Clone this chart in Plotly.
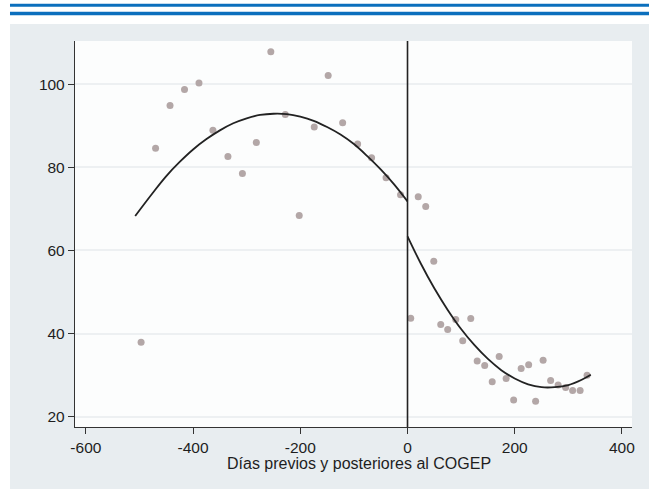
import plotly.graph_objects as go

# ---- data ----
days_before = [-497, -470, -443, -416, -389, -363, -335, -308, -282, -255,
               -228, -202, -174, -148, -121, -93, -67, -40, -13]
value_before = [37.9, 84.6, 94.9, 98.7, 100.3, 88.9, 82.6, 78.5, 86.0, 107.8,
                92.7, 68.4, 89.7, 102.1, 90.7, 85.6, 82.3, 77.5, 73.4]

days_after = [6, 20, 34, 49, 62, 75, 90, 103, 118, 130, 144, 158, 171, 184,
              198, 212, 226, 239, 253, 267, 281, 295, 308, 322, 335]
value_after = [43.7, 72.9, 70.6, 57.4, 42.2, 41.0, 43.4, 38.3, 43.6, 33.4,
               32.3, 28.4, 34.5, 29.2, 24.0, 31.6, 32.5, 23.7, 33.6, 28.7,
               27.6, 27.0, 26.3, 26.3, 30.0]

# fitted curves
fit_before_x = [-508, -475, -450, -425, -400, -375, -350, -325, -300, -275,
                -250, -225, -200, -175, -150, -125, -100, -75, -50, -25, 0]
fit_before_y = [68.3, 73.9, 77.9, 81.3, 84.3, 86.8, 88.9, 90.6, 91.8, 92.6,
                92.9, 92.8, 92.2, 91.2, 89.7, 87.9, 85.6, 82.7, 79.5, 75.9, 71.8]

fit_after_x = [0, 25, 50, 75, 100, 125, 150, 175, 200, 225, 250, 275, 300, 325, 342]
fit_after_y = [63.4, 56.8, 50.9, 45.7, 41.1, 37.2, 33.9, 31.2, 29.2, 27.8,
               27.1, 27.1, 27.6, 28.9, 30.1]

cutoff_day = 0
x_ticks = [-600, -400, -200, 0, 200, 400]
x_tick_labels = ["-600", "-400", "-200", "0", "200", "400"]
y_ticks = [20, 40, 60, 80, 100]
y_tick_labels = ["20", "40", "60", "80", "100"]
x_title = "Días previos y posteriores al COGEP"

FONT = "Liberation Sans, Arial, Helvetica, sans-serif"
marker_color = "#b3a7a7"
line_color = "#222222"

fig = go.Figure()
fig.add_trace(go.Scatter(x=days_before, y=value_before, mode="markers",
                         marker=dict(size=7, color=marker_color), showlegend=False))
fig.add_trace(go.Scatter(x=days_after, y=value_after, mode="markers",
                         marker=dict(size=7, color=marker_color), showlegend=False))
fig.add_trace(go.Scatter(x=fit_before_x, y=fit_before_y, mode="lines",
                         line=dict(color=line_color, width=1.8, shape="spline"),
                         showlegend=False))
fig.add_trace(go.Scatter(x=fit_after_x, y=fit_after_y, mode="lines",
                         line=dict(color=line_color, width=1.8, shape="spline"),
                         showlegend=False))

# vertical reference line at the cutoff
fig.add_shape(type="line", xref="x", yref="paper", x0=cutoff_day, x1=cutoff_day,
              y0=0, y1=1, line=dict(color=line_color, width=1.6), layer="above")

# white header strip and left strip
fig.add_shape(type="rect", xref="paper", yref="paper", x0=-0.2, x1=1.1,
              y0=1.044, y1=1.2, fillcolor="white", line=dict(width=0), layer="above")
fig.add_shape(type="rect", xref="paper", yref="paper", x0=-0.2, x1=-0.1167,
              y0=-0.2, y1=1.2, fillcolor="white", line=dict(width=0), layer="above")
# blue header rules
for y0, y1 in [(1.0889, 1.0959), (1.0666, 1.0751)]:
    fig.add_shape(type="rect", xref="paper", yref="paper", x0=-0.1167, x1=1.1,
                  y0=y0, y1=y1, fillcolor="#0b6fbd", line=dict(width=0), layer="above")
    fig.add_shape(type="rect", xref="paper", yref="paper", x0=-0.1167, x1=1.1,
                  y0=y1, y1=y1 + 0.0015, fillcolor="#8ab8e0", line=dict(width=0), layer="above")

fig.add_annotation(text=x_title, xref="paper", yref="paper", x=0.5099, y=-0.0933,
                   xanchor="center", yanchor="middle", showarrow=False,
                   font=dict(family=FONT, size=16, color="#1e1e1e"))

axis_common = dict(showline=True, linecolor="#333333", linewidth=1.3,
                   ticks="outside", ticklen=6, tickwidth=1.2, tickcolor="#333333",
                   tickfont=dict(family=FONT, size=15.5, color="#1e1e1e"),
                   zeroline=False, mirror=False)

fig.update_xaxes(range=[-620.3, 418.8], tickvals=x_ticks, ticktext=x_tick_labels,
                 showgrid=False, **axis_common)
fig.update_yaxes(range=[17.52, 110.4], tickvals=y_ticks, ticktext=y_tick_labels,
                 showgrid=True, gridcolor="#edf0f2", gridwidth=1.5, **axis_common)

fig.update_layout(width=649, height=489,
                  margin=dict(l=75, r=17, t=41, b=62),
                  paper_bgcolor="#e8edf0", plot_bgcolor="#fcfdfd",
                  font=dict(family=FONT), hovermode=False)

fig.write_html("out.html", config={"displayModeBar": False},
               post_script="document.body.style.margin='0';")
